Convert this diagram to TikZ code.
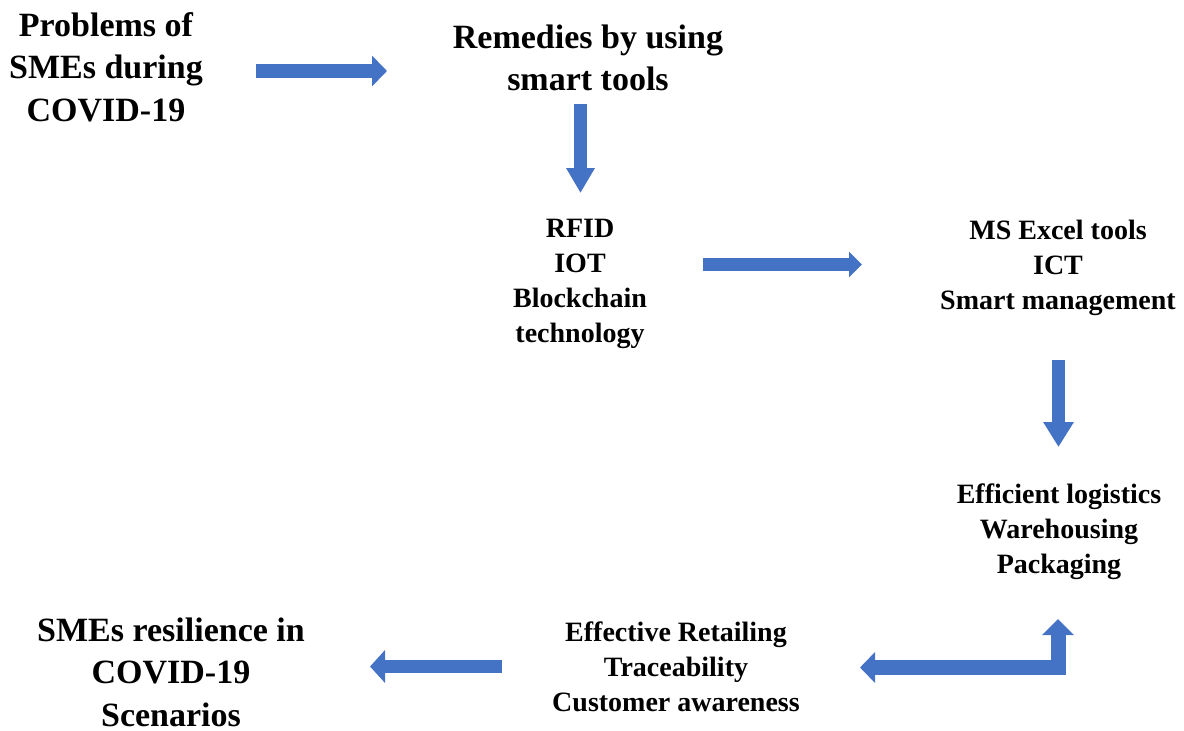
\documentclass[tikz,border=0pt]{standalone}
\usepackage{fontspec}
\setmainfont{Liberation Serif}
\usepackage{tikz}
\usetikzlibrary{positioning, arrows.meta}
\definecolor{arrowblue}{HTML}{4472C4}

\begin{document}
\begin{tikzpicture}[x=1pt, y=-1pt,
	bigtxt/.style={align=center, inner sep=0pt, font=\fontsize{34}{42.5}\selectfont\bfseries},
	smalltxt/.style={align=center, inner sep=0pt, font=\fontsize{28}{35}\selectfont\bfseries},
	blockarrow/.style 2 args={draw=arrowblue, line width=14pt, line join=miter, -{Triangle[length=#1, width=#2]}}]
	\useasboundingbox (0,0) rectangle (1184,731);
	% Components
	\node[bigtxt] (problems) at (106,67) {Problems of\\SMEs during\\COVID-19};
	\node[bigtxt] (remedies) at (588,58) {Remedies by using\\smart tools};
	\node[smalltxt] (rfid) at (580,284) {RFID\\IOT\\Blockchain\\technology};
	\node[smalltxt] (excel) at (1058,268) {MS Excel tools\\ICT\\Smart management};
	\node[smalltxt] (logistics) at (1059,532) {Efficient logistics\\Warehousing\\Packaging};
	\node[smalltxt] (retail) at (676,667) {Effective Retailing\\Traceability\\Customer awareness};
	\node[bigtxt] (resilience) at (171,672) {SMEs resilience in\\COVID-19\\Scenarios};
	
	% Arrow ends
	\coordinate (p1) at (256,71);     \coordinate (p2) at (387,71);
	\coordinate (r1) at (580.5,104);  \coordinate (r2) at (580.5,193);
	\coordinate (t1) at (703,264.5);  \coordinate (t2) at (862,264.5);
	\coordinate (e1) at (1058.5,360); \coordinate (e2) at (1058.5,447);
	\coordinate (b1) at (860,667.5);  \coordinate (b2) at (1058,619);
	\coordinate (s1) at (502,666.5);  \coordinate (s2) at (370,666.5);
	
	% Connections
	\draw[blockarrow={15pt}{30pt}] (p1) -- (p2);
	\draw[blockarrow={25pt}{27pt}, line width=13pt] (r1) -- (r2);
	\draw[blockarrow={13pt}{25pt}, line width=13pt] (t1) -- (t2);
	\draw[blockarrow={25pt}{29pt}, line width=13pt] (e1) -- (e2);
	\draw[blockarrow={16pt}{31pt}, line width=15pt, {Triangle[length=15pt, width=30pt]}-{Triangle[length=16pt, width=31pt]}] (b1) -| (b2);
	\draw[blockarrow={15pt}{32pt}, line width=13pt] (s1) -- (s2);
\end{tikzpicture}
\end{document}
